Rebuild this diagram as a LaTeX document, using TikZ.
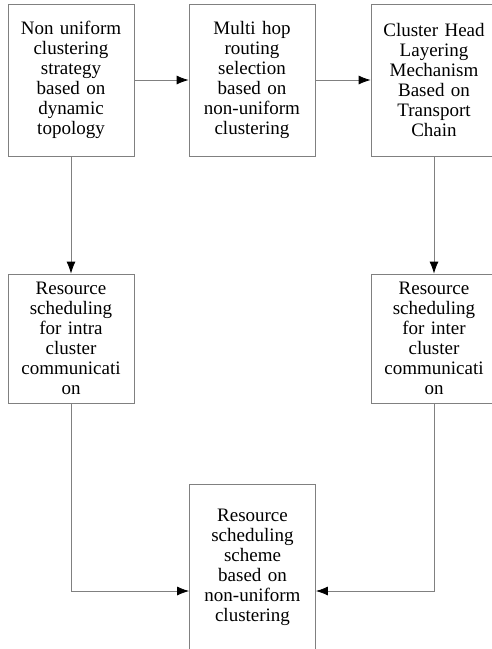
\documentclass[tikz,border=0pt]{standalone}
\usepackage{fontspec}
\setmainfont{Liberation Serif}
\usetikzlibrary{arrows.meta}
\tikzset{
    block/.style={draw=gray, line width=0.8pt, minimum width=126pt, text width=122pt, align=center, inner sep=0pt, font=\fontsize{19}{20}\selectfont},
    link/.style={draw=gray, line width=0.8pt, -{Latex[length=12pt,width=9pt,color=black]}}
}
\begin{document}
\begin{tikzpicture}
        \useasboundingbox (0,0) rectangle (492pt,-649pt);
        \node (strategy) [block, minimum height=152pt] at (71pt,-80pt) {Non uniform\\clustering\\strategy\\based on\\dynamic\\topology};
        \node (routing) [block, minimum height=152pt] at (252pt,-80pt) {Multi hop\\routing\\selection\\based on\\non-uniform\\clustering};
        \node (layering) [block, minimum height=152pt] at (434pt,-80pt) {Cluster Head\\Layering\\Mechanism\\Based on\\Transport\\Chain};
        \node (intra) [block, minimum height=129pt] at (71pt,-338.5pt) {Resource\\scheduling\\for intra\\cluster\\communicati\\on};
        \node (inter) [block, minimum height=129pt] at (434pt,-338.5pt) {Resource\\scheduling\\for inter\\cluster\\communicati\\on};
        \node (scheme) [block, minimum height=166pt] at (252.5pt,-567pt) {Resource\\scheduling\\scheme\\based on\\non-uniform\\clustering};

        \draw[link] (strategy) -- (routing);
        \draw[link] (routing) -- (layering);
        \draw[link] (strategy) -- (intra);
        \draw[link] (layering) -- (inter);
        \draw[link] (intra.south) |- ([yshift=-24pt]scheme.west);
        \draw[link] (inter.south) |- ([yshift=-24pt]scheme.east);
    \end{tikzpicture}
\end{document}
